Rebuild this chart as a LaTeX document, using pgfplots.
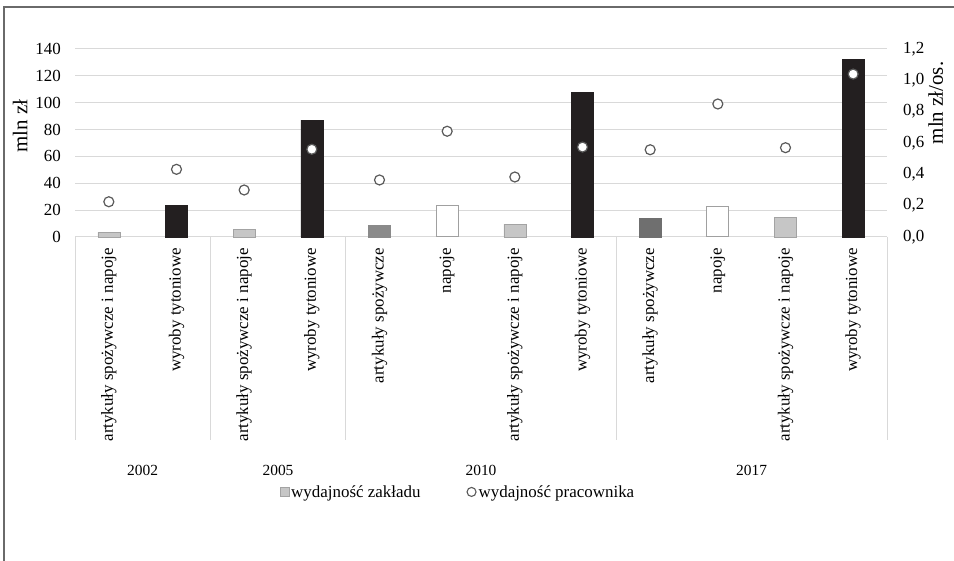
\documentclass[border=0pt]{standalone}
\usepackage{fontspec}
\setmainfont{Liberation Serif}
\usepackage{pgfplots}
\pgfplotsset{compat=1.18}
\definecolor{barlight}{HTML}{C6C6C6}
\definecolor{barlightedge}{HTML}{A3A3A3}
\definecolor{barblack}{HTML}{231F20}
\definecolor{barmid}{HTML}{8A8A8A}
\definecolor{bardark}{HTML}{6F6F6F}
\definecolor{baredge}{HTML}{A0A0A0}
\definecolor{markedge}{HTML}{5A5A5A}
\definecolor{gridc}{HTML}{D9D9D9}
\definecolor{framec}{HTML}{6A6A6A}
\newcommand\fsz[1]{\fontsize{#1}{#1}\selectfont}
\begin{document}
\begin{tikzpicture}
\path[use as bounding box] (0,0) rectangle (954bp,561bp);
\draw[framec, line width=1.2bp] (4bp,0) -- (4bp,554bp) -- (954bp,554bp);
\begin{axis}[
  at={(75bp,324bp)}, anchor=south west, scale only axis,
  width=812bp, height=188bp,
  xmin=-0.5, xmax=11.5, ymin=0, ymax=140,
  ytick={0,20,...,140}, xtick={0,...,11},
  xticklabels={artykuły spożywcze i napoje, wyroby tytoniowe,
    artykuły spożywcze i napoje, wyroby tytoniowe,
    artykuły spożywcze, napoje, artykuły spożywcze i napoje, wyroby tytoniowe,
    artykuły spożywcze, napoje, artykuły spożywcze i napoje, wyroby tytoniowe},
  major tick length=0pt,
  axis line style={draw=none},
  ymajorgrids, grid style={draw=gridc, line width=1bp},
  clip=false,
  /pgf/number format/assume math mode=true,
  yticklabel style={font=\fsz{17}, inner sep=0pt, anchor=east, xshift=-14bp},
  xticklabel style={font=\fsz{17}, yshift=-11bp, rotate=90, anchor=east, inner sep=0pt},
  ylabel={mln zł},
  ylabel style={font=\fsz{21}, at={(axis description cs:-0.0677,0.59)}, anchor=center},
]
\addplot[ybar, bar width=22bp, bar shift=0pt, fill=barlight, draw=barlightedge]
  coordinates {(0,3.5) (2,5.5) (6,9.5) (10,14.5)};
\addplot[ybar, bar width=22bp, bar shift=0pt, fill=barblack, draw=barblack]
  coordinates {(1,23.5) (3,87) (7,107.5) (11,132.5)};
\addplot[ybar, bar width=22bp, bar shift=0pt, fill=barmid, draw=barmid]
  coordinates {(4,9)};
\addplot[ybar, bar width=22bp, bar shift=0pt, fill=bardark, draw=bardark]
  coordinates {(8,14)};
\addplot[ybar, bar width=22bp, bar shift=0pt, fill=white, draw=baredge, line width=1bp]
  coordinates {(5,23.5) (9,22.5)};
\foreach \xx in {-0.5,1.5,3.5,7.5,11.5}{
  \edef\tmp{\noexpand\draw[gridc, line width=1bp] (axis cs:\xx,0) -- ([yshift=-203bp]axis cs:\xx,0);}\tmp
}
\node[font=\fsz{15.5}] at (axis cs:0.5,0) [yshift=-233bp] {2002};
\node[font=\fsz{15.5}] at (axis cs:2.5,0) [yshift=-233bp] {2005};
\node[font=\fsz{15.5}] at (axis cs:5.5,0) [yshift=-233bp] {2010};
\node[font=\fsz{15.5}] at (axis cs:9.5,0) [yshift=-233bp] {2017};
\end{axis}
\begin{axis}[
  at={(75bp,324bp)}, anchor=south west, scale only axis,
  width=812bp, height=188bp,
  xmin=-0.5, xmax=11.5, ymin=0, ymax=1.2,
  ytick={0,0.2,0.4,0.6,0.8,1.0,1.2},
  hide x axis, axis y line*=right,
  y axis line style={draw=none},
  major tick length=0pt,
  clip=false,
  yticklabel style={font=\fsz{17}, inner sep=0pt, anchor=west, xshift=16bp,
    /pgf/number format/.cd, fixed, fixed zerofill, precision=1, use comma},
  /pgf/number format/assume math mode=true,
  ylabel={mln zł/os.},
  ylabel style={font=\fsz{21}, at={(axis description cs:1.06,0.713)}, anchor=center, rotate=0},
  legend style={at={(axis description cs:0.4717,-1.356)}, anchor=center,
    draw=none, fill=none, font=\fsz{17}, legend columns=2,
    /tikz/every even column/.append style={column sep=44bp}},
]
\addlegendimage{legend image code/.code={\draw[fill=barlight, draw=barlightedge] (0bp,-4.5bp) rectangle (9bp,4.5bp);}}
\addlegendentry{wydajność zakładu}
\addlegendimage{legend image code/.code={\draw[fill=white, draw=markedge, line width=1.1bp] (4.5bp,0bp) circle (4.5bp);}}
\addlegendentry{wydajność pracownika}
\addplot[only marks, mark=*, mark size=5bp, mark options={fill=white, draw=markedge, line width=1.2bp}, forget plot]
  coordinates {(0,0.225) (1,0.432) (2,0.30) (3,0.56) (4,0.364) (5,0.675) (6,0.383) (7,0.574) (8,0.557) (9,0.849) (10,0.57) (11,1.04)};
\end{axis}
\end{tikzpicture}
\end{document}
